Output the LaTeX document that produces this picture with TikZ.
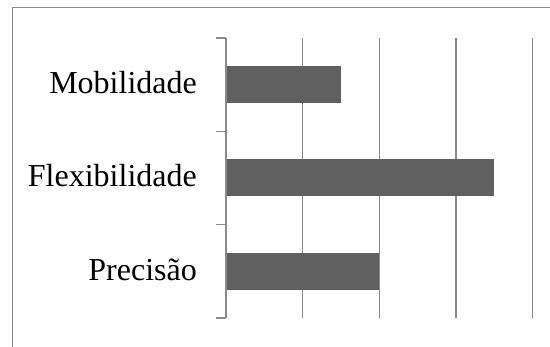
\documentclass[tikz,border=0pt]{standalone}
\usepackage{fontspec}
\setmainfont{Liberation Serif}
\definecolor{barfill}{HTML}{606060}
\definecolor{gridgray}{HTML}{8A8A8A}

\begin{document}
\begin{tikzpicture}[x=1pt,y=-1pt,
	grid/.style={draw=gridgray,line width=1.3pt},
	bar/.style={fill=barfill},
	catlabel/.style={anchor=base east,inner sep=0pt,font=\fontsize{32}{38}\selectfont}]
	\useasboundingbox (0,0) rectangle (550,347);
	% frame
	\draw[gridgray,line width=1pt] (550,8) -| (12,347);
	% grid lines
	\foreach \i in {1,...,4}
		\draw[grid] (226+\i*76.67,38) -- ++(0,280);
	% bars and labels
	\foreach \v/\c/\t/\n in {1.5/84.67/Mobilidade/mob, 3.5/178/Flexibilidade/flex, 2/271.33/Precisão/prec} {
		\fill[bar] (226,\c-18.5) rectangle (226+\v*76.67,\c+18.5);
		\node[catlabel] (\n) at (197,\c+9) {\t};
	}
	% axis and ticks
	\draw[grid] (226,38) -- (226,318);
	\foreach \y in {38,131.33,224.67,318}
		\draw[grid] (216,\y) -- (226,\y);
\end{tikzpicture}
\end{document}
